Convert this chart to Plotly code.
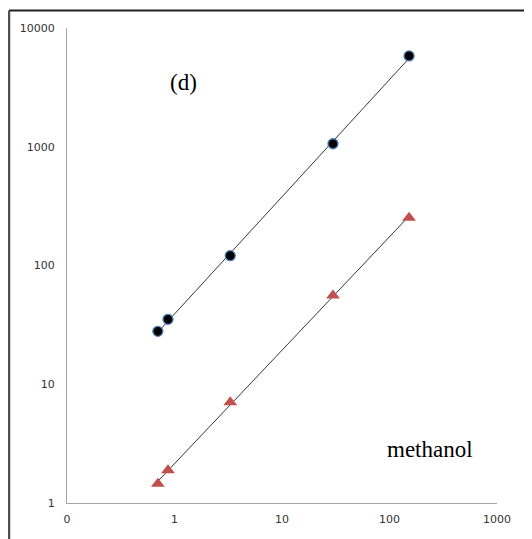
import numpy as np
import plotly.graph_objects as go

# Data
x_vals = [0.70, 0.87, 3.3, 29.8, 152]
circle_y = [27.9, 35.2, 121, 1060, 5820]
triangle_y = [1.45, 1.89, 7.06, 56, 253]

x_tickvals = [0.1, 1, 10, 100, 1000]
x_ticktext = ["0", "1", "10", "100", "1000"]
y_tickvals = [1, 10, 100, 1000, 10000]
y_ticktext = ["1", "10", "100", "1000", "10000"]

fig = go.Figure()


def trend(xs, ys):
    lx, ly = np.log10(xs), np.log10(ys)
    b, a = np.polyfit(lx, ly, 1)
    xe = np.array([min(xs), max(xs)])
    return xe, 10 ** (a + b * np.log10(xe))


for ys in (circle_y, triangle_y):
    tx, ty = trend(x_vals, ys)
    fig.add_trace(go.Scatter(x=tx, y=ty, mode="lines",
                             line=dict(color="black", width=0.8),
                             showlegend=False, hoverinfo="skip"))

fig.add_trace(go.Scatter(x=x_vals, y=circle_y, mode="markers",
                         marker=dict(symbol="circle", size=10, color="black",
                                     line=dict(color="#4a7ebb", width=1.3)),
                         showlegend=False))
fig.add_trace(go.Scatter(x=x_vals, y=triangle_y, mode="markers",
                         marker=dict(symbol="triangle-up", size=12, color="#c0504d",
                                     line=dict(width=0)),
                         showlegend=False))

fig.update_xaxes(type="log", range=[-1, 3], tickvals=x_tickvals, ticktext=x_ticktext,
                 showgrid=False, zeroline=False, showline=True, linecolor="#a6a6a6",
                 linewidth=1, ticks="", ticklabelstandoff=6,
                 tickfont=dict(family="DejaVu Sans", size=11, color="#333333"))
fig.update_yaxes(type="log", range=[0, 4], tickvals=y_tickvals, ticktext=y_ticktext,
                 showgrid=False, zeroline=False, showline=True, linecolor="#a6a6a6",
                 linewidth=1, ticks="", ticklabelstandoff=9,
                 tickfont=dict(family="DejaVu Sans", size=11, color="#333333"))

fig.add_annotation(text="(d)", x=0.27, y=0.886, xref="paper", yref="paper",
                   xanchor="center", yanchor="middle",
                   showarrow=False, font=dict(family="Liberation Serif", size=23, color="black"))
fig.add_annotation(text="methanol", x=0.844, y=0.112, xref="paper", yref="paper",
                   xanchor="center", yanchor="middle",
                   showarrow=False, font=dict(family="Liberation Serif", size=23, color="black"))

# outer frame (top and left edges visible)
fig.add_shape(type="line", xref="paper", yref="paper", x0=-0.1349, x1=1.2, y0=1.0368, y1=1.0368,
              line=dict(color="#202020", width=2))
fig.add_shape(type="line", xref="paper", yref="paper", x0=-0.1349, x1=-0.1349, y0=1.0368, y1=-0.2,
              line=dict(color="#505050", width=2.5))

# page body has an 8px default margin, so the figure is 8px smaller and margins shifted
fig.update_layout(width=524, height=531, margin=dict(l=59, r=35, t=20, b=36),
                  paper_bgcolor="white", plot_bgcolor="white")

fig.write_html("out.html")
